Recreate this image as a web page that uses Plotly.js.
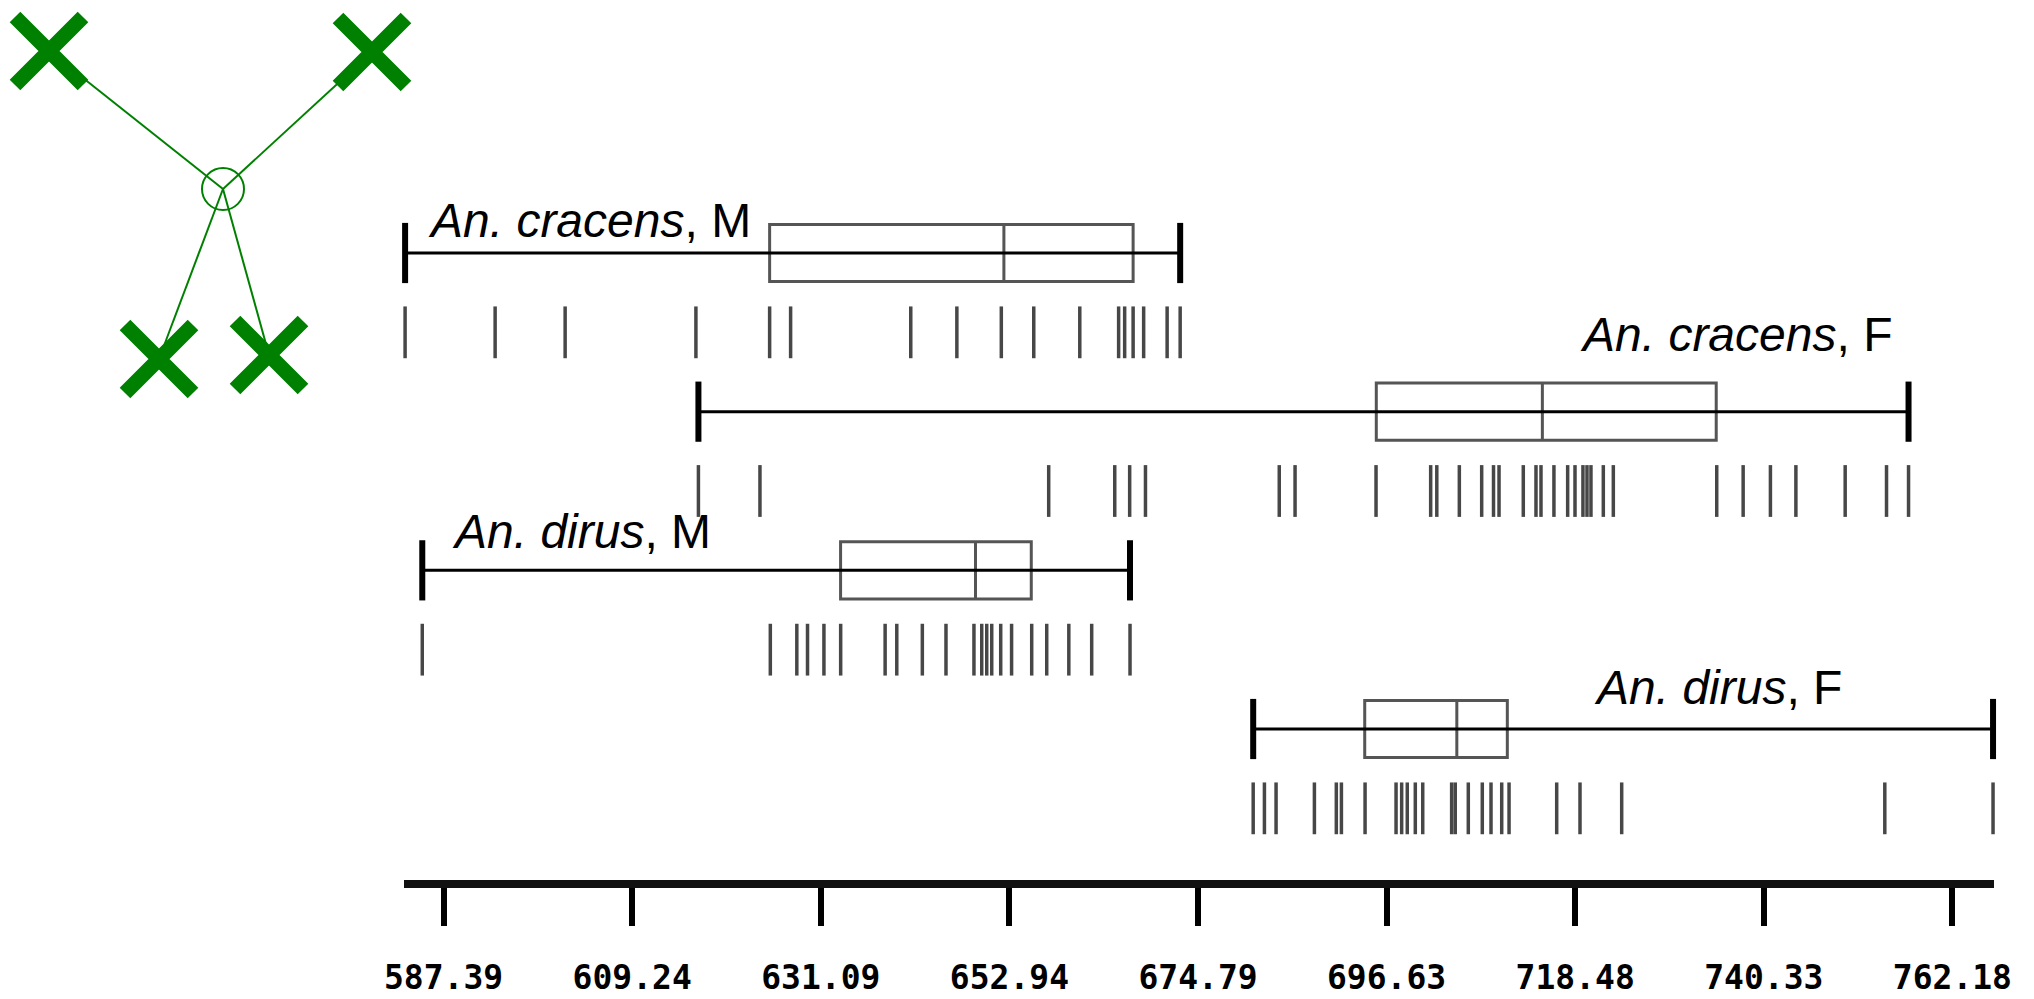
<!DOCTYPE html>
<html>
<head>
<meta charset="utf-8">
<script src="https://cdn.plot.ly/plotly-3.0.1.min.js"></script>
<style>html,body{margin:0;padding:0;background:#fff;}#chart{width:2034px;height:999px;}</style>
</head>
<body>
<div id="chart"></div>
<script>
// ---- data ----
const groupLabels = ['<i>An. cracens</i>, M', '<i>An. cracens</i>, F', '<i>An. dirus</i>, M', '<i>An. dirus</i>, F'];
const rows = [0, 1, 2, 3];

const cracensM = [582.93, 593.36, 601.47, 616.62, 625.16, 627.59, 641.51, 646.85, 652.00, 655.76,
  661.09, 665.59, 666.29, 667.27, 668.49, 671.21, 672.72];
const cracensF = [616.91, 624.04, 657.49, 665.14, 666.87, 668.70, 684.20, 686.03, 695.41, 701.74,
  702.45, 705.06, 707.65, 709.02, 709.66, 712.47, 713.94, 714.52, 716.02, 717.61, 718.46, 719.38,
  719.85, 720.31, 721.74, 722.90, 734.88, 737.94, 741.10, 744.05, 749.76, 754.55, 757.10];
const dirusM = [584.92, 625.24, 628.31, 629.55, 631.45, 633.39, 638.54, 639.89, 642.85, 645.59,
  648.83, 649.73, 650.31, 650.89, 651.93, 653.19, 655.52, 657.26, 659.82, 662.47, 666.91];
const dirusF = [681.18, 682.48, 683.83, 688.27, 690.81, 691.40, 694.14, 697.73, 698.38, 699.03,
  699.96, 700.82, 704.17, 704.59, 706.10, 707.72, 708.73, 709.97, 710.82, 716.34, 719.04, 723.87,
  754.35, 766.89];

const q1 = [625.16, 695.44, 633.38, 694.10];
const median = [652.30, 714.68, 649.01, 704.77];
const q3 = [667.27, 734.82, 655.47, 710.62];

const tickVals = [587.39, 609.24, 631.09, 652.94, 674.79, 696.63, 718.48, 740.33, 762.18];
const tickText = ['587.39', '609.24', '631.09', '652.94', '674.79', '696.63', '718.48', '740.33', '762.18'];

// label anchors
const labelX = [585.35, 755.42, 588.13, 720.43];
const labelY = [-0.202, 0.515, 1.758, 2.739];
const labelAnchor = ['left', 'right', 'left', 'left'];

// tree icon (node positions in pixel space)
const treeLeafX = [49, 372, 159, 269];
const treeLeafY = [51, 52, 359, 355];
const treeRootX = [223];
const treeRootY = [189];

// ---- traces ----
const groups = [cracensM, cracensF, dirusM, dirusF];
const traces = [];

groups.forEach((vals, i) => {
  const lo = Math.min(...vals), hi = Math.max(...vals);
  traces.push({type: 'scatter', mode: 'lines', x: [lo, hi], y: [rows[i], rows[i]],
    line: {color: '#000', width: 3}, hoverinfo: 'skip', showlegend: false});
  traces.push({type: 'scatter', mode: 'markers', x: [lo, hi], y: [rows[i], rows[i]],
    marker: {symbol: 'line-ns', size: 43, color: '#000', line: {color: '#000', width: 6}},
    hoverinfo: 'skip', showlegend: false, cliponaxis: false});
  traces.push({type: 'scatter', mode: 'markers', x: vals, y: vals.map(() => rows[i] + 0.5),
    marker: {symbol: 'line-ns', size: 37, color: 'rgba(0,0,0,0.72)', line: {color: 'rgba(0,0,0,0.72)', width: 3.5}},
    hoverinfo: 'skip', showlegend: false, cliponaxis: false});
});

traces.push({
  type: 'box', orientation: 'h', y: rows, q1: q1, median: median, q3: q3,
  lowerfence: q1, upperfence: q3, width: 0.36,
  line: {color: '#555', width: 3}, fillcolor: 'rgba(0,0,0,0)', boxpoints: false,
  hoverinfo: 'skip', showlegend: false
});

// tree icon
treeLeafX.forEach((lx, k) => {
  traces.push({type: 'scatter', mode: 'lines', x: [treeRootX[0], lx], y: [treeRootY[0], treeLeafY[k]],
    xaxis: 'x2', yaxis: 'y2', line: {color: '#008000', width: 2}, hoverinfo: 'skip', showlegend: false});
});
traces.push({type: 'scatter', mode: 'markers', x: treeRootX, y: treeRootY, xaxis: 'x2', yaxis: 'y2',
  marker: {symbol: 'circle-open', size: 42, color: '#008000', line: {color: '#008000', width: 2}},
  hoverinfo: 'skip', showlegend: false, cliponaxis: false});
traces.push({type: 'scatter', mode: 'markers', x: treeLeafX, y: treeLeafY, xaxis: 'x2', yaxis: 'y2',
  marker: {symbol: 'x-thin-open', size: 68, color: '#008000', line: {color: '#008000', width: 15}},
  hoverinfo: 'skip', showlegend: false, cliponaxis: false});

const annotations = groupLabels.map((t, i) => ({
  text: t, x: labelX[i], y: labelY[i], xref: 'x', yref: 'y',
  xanchor: labelAnchor[i], yanchor: 'middle', showarrow: false,
  font: {family: 'Liberation Sans, Arial, sans-serif', size: 48, color: '#000'}
}));

const xMin = 582.85, xMax = 766.95;
const pxPerUnit = 8.632, pxRef = 443.6, vRef = 587.39;

const layout = {
  width: 2034, height: 999,
  margin: {l: 0, r: 0, t: 0, b: 119, pad: 0},
  paper_bgcolor: '#fff', plot_bgcolor: 'rgba(0,0,0,0)',
  showlegend: false,
  xaxis: {
    domain: [(pxRef + (xMin - vRef) * pxPerUnit) / 2034, (pxRef + (xMax - vRef) * pxPerUnit) / 2034],
    range: [xMin, xMax],
    showgrid: false, zeroline: false, showline: true, linecolor: '#111', linewidth: 8,
    ticks: 'outside', ticklen: 38, tickwidth: 6, tickcolor: '#000',
    tickvals: tickVals, ticktext: tickText, ticklabelstandoff: 23,
    tickfont: {family: 'DejaVu Sans Mono', size: 33, color: '#000', weight: 'bold'},
    fixedrange: true
  },
  yaxis: {
    domain: [0, 1], range: [3.9516, -1.5945], visible: false, showgrid: false, zeroline: false, fixedrange: true
  },
  xaxis2: {domain: [0, 1], range: [0, 2034], anchor: 'y2', visible: false, showgrid: false, zeroline: false},
  yaxis2: {domain: [0, 1], range: [880, 0], anchor: 'x2', visible: false, showgrid: false, zeroline: false},
  annotations: annotations
};

Plotly.newPlot('chart', traces, layout, {staticPlot: true, displayModeBar: false});
</script>
</body>
</html>
